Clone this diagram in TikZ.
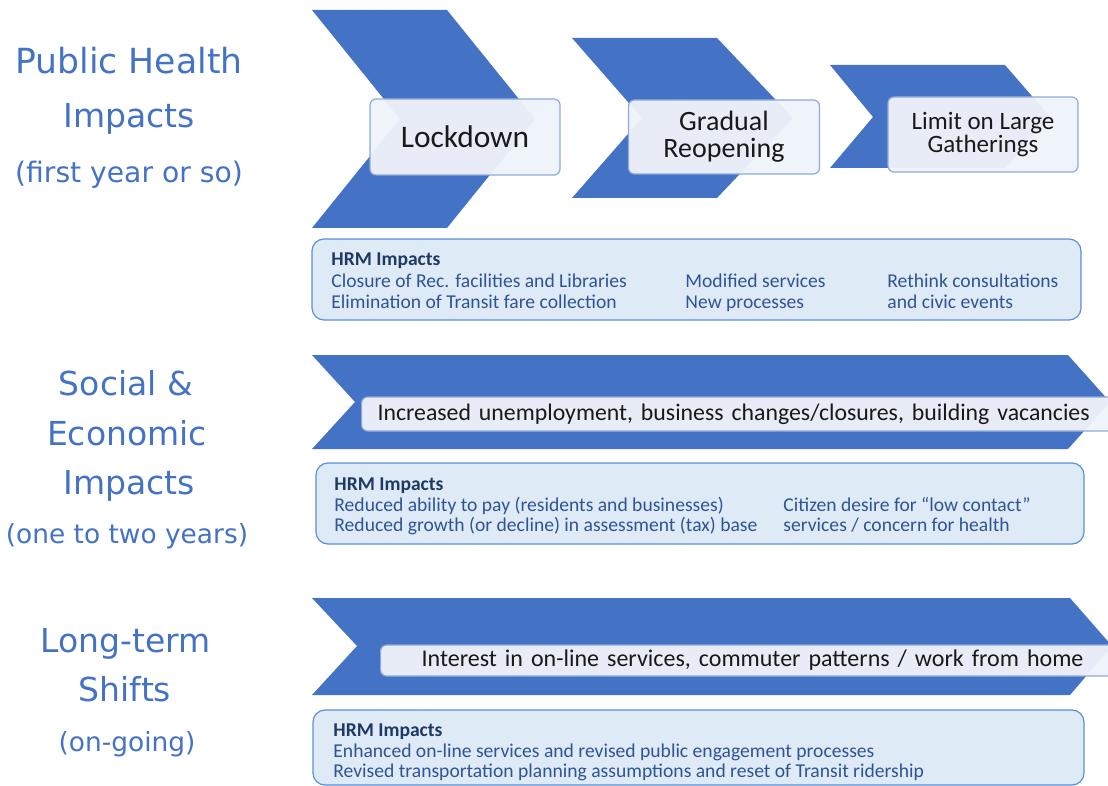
\documentclass[tikz,border=0pt]{standalone}
\usepackage{fontspec}
\setmainfont{Carlito}
\newfontfamily\headfont{DejaVu Sans}
\usetikzlibrary{positioning}

\definecolor{chevblue}{HTML}{4472C4}
\definecolor{headblue}{HTML}{4472C4}
\definecolor{lblfill}{HTML}{EEF2FA}
\definecolor{lblline}{HTML}{8FAADC}
\definecolor{hrmfill}{HTML}{DEEAF6}
\definecolor{hrmline}{HTML}{5B8FD6}
\definecolor{hrmtitle}{HTML}{1F3864}
\definecolor{hrmtext}{HTML}{2F5496}

\begin{document}
\begin{tikzpicture}[x=0.5pt,y=-0.5pt,
	chev/.style={fill=chevblue},
	lbl/.style={draw=lblline,fill=lblfill,fill opacity=0.96,text opacity=1,rounded corners=3pt,line width=0.6pt,text=black!90},
	hrm/.style={draw=hrmline,fill=hrmfill,rounded corners=6pt,line width=0.6pt,inner sep=0pt},
	head/.style={anchor=base,inner sep=0pt,text=headblue,font=\headfont\fontsize{16.5}{18}\selectfont},
	sub/.style={anchor=base,inner sep=0pt,text=headblue,font=\headfont\fontsize{13.2}{15}\selectfont},
	ttl/.style={anchor=base west,inner sep=0pt,text=hrmtitle,font=\bfseries\fontsize{9.8}{10.5}\selectfont},
	itm/.style={anchor=base west,inner sep=0pt,text=hrmtext,font=\fontsize{9.8}{10.5}\selectfont}]
	\path[use as bounding box, clip] (0,0) rectangle (1108,786);

	% left headings
	\node[head, font=\headfont\fontsize{17.3}{18}\selectfont] (ph1) at (129,74) {Public Health};
	\node[head] (ph2) at (129,128) {Impacts};
	\node[sub, font=\headfont\fontsize{14.1}{15}\selectfont]  (ph3) at (129,183) {(first year or so)};
	\node[head] (se1) at (126,395) {Social \&};
	\node[head] (se2) at (127,445) {Economic};
	\node[head] (se3) at (129,494) {Impacts};
	\node[sub]  (se4) at (127,543) {(one to two years)};
	\node[head] (lt1) at (126,652) {Long-term};
	\node[head] (lt2) at (125,701) {Shifts};
	\node[sub]  (lt3) at (127,751) {(on-going)};

	% chevrons
	\fill[chev] (312,10) -- (447,10) -- (535,119) -- (447,228) -- (312,228) -- (400,119) -- cycle;
	\fill[chev] (572,38) -- (717,38) -- (793,118) -- (717,198) -- (572,198) -- (642,118) -- cycle;
	\fill[chev] (830,65) -- (1005,65) -- (1050,117) -- (1005,168) -- (830,168) -- (873,117) -- cycle;
	\fill[chev] (312,355) -- (1068,355) -- (1110,402) -- (1068,449) -- (312,449) -- (355,402) -- cycle;
	\fill[chev] (312,598) -- (1070,598) -- (1112,646) -- (1070,695) -- (312,695) -- (357,646) -- cycle;

	% labels on the chevrons
	\node[lbl, minimum width=95pt, minimum height=38pt, font=\fontsize{15.7}{17}\selectfont] (lock) at (465,137) {Lockdown};
	\node[lbl, minimum width=95.5pt, minimum height=37pt, align=center, font=\fontsize{14}{13.5}\selectfont] (reopen) at (724,137) {Gradual\\Reopening};
	\node[lbl, minimum width=95pt, minimum height=37.5pt, align=center, font=\fontsize{12.5}{11.5}\selectfont] (limit) at (983,134.5) {Limit on Large\\Gatherings};
	\node[lbl, anchor=west, inner xsep=8pt, inner ysep=0pt, text width=363.5pt, minimum height=17pt, align=left, font=\fontsize{11.9}{14}\selectfont] (econ) at (361,414) {\mbox{Increased unemployment, business changes/closures, building vacancies}};
	\node[lbl, anchor=west, inner xsep=20.5pt, inner ysep=0pt, text width=349pt, minimum height=15.5pt, align=left, font=\fontsize{12}{14}\selectfont] (shift) at (380,660.5) {\mbox{Interest in on-line services, commuter patterns / work from home}};

	% HRM impact boxes
	\node[hrm, minimum width=384.5pt, minimum height=40.5pt] (hrm1) at (696.5,279.5) {};
	\node[ttl] (h1) at (331,266) {HRM Impacts};
	\node[itm] (h1a) at (331,287) {Closure of Rec. facilities and Libraries};
	\node[itm] (h1b) at (331,308) {Elimination of Transit fare collection};
	\node[itm] (h1c) at (685,287) {Modified services};
	\node[itm] (h1d) at (685,308) {New processes};
	\node[itm] (h1e) at (887,287) {Rethink consultations};
	\node[itm] (h1f) at (887,308) {and civic events};

	\node[hrm, minimum width=384pt, minimum height=40.5pt] (hrm2) at (700,503.5) {};
	\node[ttl] (h2) at (334,490) {HRM Impacts};
	\node[itm] (h2a) at (334,511) {Reduced ability to pay (residents and businesses)};
	\node[itm] (h2b) at (334,531) {Reduced growth (or decline) in assessment (tax) base};
	\node[itm] (h2c) at (783,511) {Citizen desire for ``low contact''};
	\node[itm] (h2d) at (783,531) {services / concern for health};

	\node[hrm, minimum width=385.5pt, minimum height=37.5pt] (hrm3) at (698.5,747.5) {};
	\node[ttl] (h3) at (333,736) {HRM Impacts};
	\node[itm] (h3a) at (333,757) {Enhanced on-line services and revised public engagement processes};
	\node[itm] (h3b) at (333,777) {Revised transportation planning assumptions and reset of Transit ridership};
\end{tikzpicture}
\end{document}
